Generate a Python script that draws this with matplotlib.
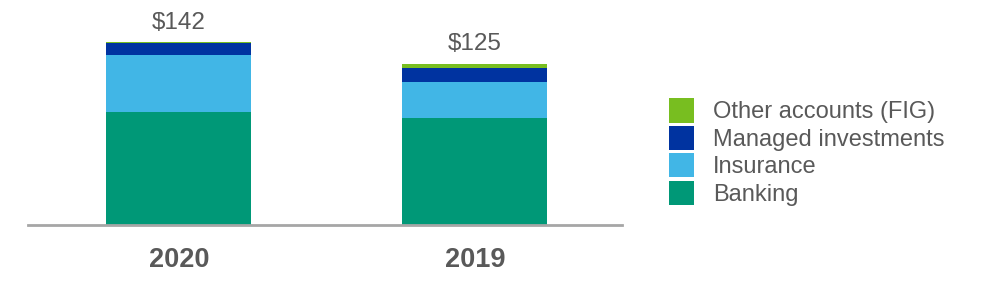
import matplotlib
matplotlib.use("Agg")
import matplotlib.pyplot as plt
import numpy as np

# --- data ---
years = ["2020", "2019"]
totals = ["$142", "$125"]
banking = [88.0, 83.0]
insurance = [43.5, 28.0]
managed = [9.5, 11.0]
other = [1.0, 3.0]

series = ["Banking", "Insurance", "Managed investments", "Other accounts (FIG)"]
colors = ["#009877", "#41b6e6", "#0033a0", "#78be20"]

plt.rcParams["font.family"] = ["Liberation Sans", "DejaVu Sans"]
grey = "#595959"

fig = plt.figure(figsize=(10, 3), dpi=100)
ax = fig.add_axes([0.028, 0.25, 0.594, 0.75])

x = np.arange(len(years))
bottom = np.zeros(len(years))
handles = []
for vals, name, col in zip([banking, insurance, managed, other], series, colors):
    b = ax.bar(x, vals, width=0.49, bottom=bottom, color=col, label=name)
    handles.append(b)
    bottom += np.array(vals)

# totals above bars
for xi, top, lab in zip(x, bottom, totals):
    ax.text(xi, top + 6.5, lab, ha="center", va="bottom", fontsize=17.5, color=grey)

ax.set_xlim(-0.51, 1.497)
ax.set_ylim(0, 174.5)
ax.set_xticks(x)
ax.set_xticklabels(years, fontsize=19.5, fontweight="bold", color=grey)
ax.tick_params(axis="x", length=0, pad=16)
ax.set_yticks([])
for s in ["top", "right", "left"]:
    ax.spines[s].set_visible(False)
ax.spines["bottom"].set_color("#a6a6a6")
ax.spines["bottom"].set_linewidth(2)

leg = fig.legend(handles[::-1], series[::-1], loc="center left",
                 bbox_to_anchor=(0.669, 0.493), frameon=False, fontsize=17,
                 handlelength=1.05, handleheight=1.2, labelspacing=0.1,
                 handletextpad=0.8, borderaxespad=0, borderpad=0)
for t in leg.get_texts():
    t.set_color(grey)

fig.savefig("out.png", dpi=100)
